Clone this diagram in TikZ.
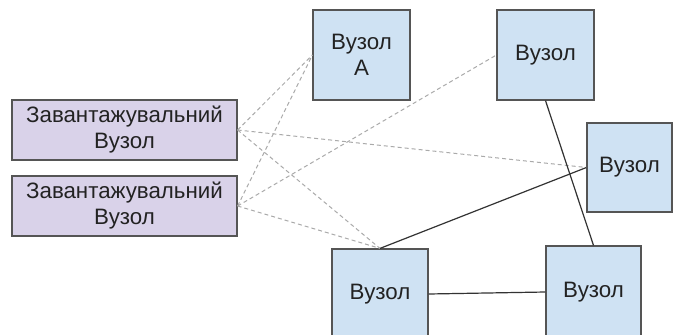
\documentclass[tikz,border=0pt]{standalone}
\usepackage{fontspec}
\setmainfont{Liberation Sans}
\definecolor{loadfill}{HTML}{D9D2E9}
\definecolor{nodefill}{HTML}{CFE2F3}
\definecolor{edgecol}{HTML}{555555}
\definecolor{dashcol}{HTML}{AAAAAA}
\definecolor{solidcol}{HTML}{333333}
\definecolor{txt}{HTML}{222222}
\begin{document}
\begin{tikzpicture}[x=1pt,y=-1pt,
  box/.style={draw=edgecol, line width=1.2pt, inner sep=0pt, align=center,
    text=txt, font=\fontsize{22.3}{26}\selectfont},
  loadbox/.style={box, fill=loadfill, minimum width=225pt, minimum height=60pt},
  netbox/.style={box, fill=nodefill, minimum width=97pt, minimum height=90pt},
  dashlink/.style={draw=dashcol, line width=1pt, dash pattern=on 4pt off 3pt},
  solidlink/.style={draw=solidcol, line width=1.2pt}]
\useasboundingbox (0,0) rectangle (673,335);
\fill[white] (0,0) rectangle (673,335);
\clip (0,0) rectangle (673,335);
\node[loadbox] (L1) at (124.5,130) {Завантажувальний\\Вузол};
\node[loadbox] (L2) at (124.5,206) {Завантажувальний\\Вузол};
\node[netbox] (A) at (361.5,55) {Вузол\\A};
\node[netbox] (TR) at (545.5,55) {Вузол};
\node[netbox, minimum width=85pt, minimum height=89pt] (R) at (629.5,167.5) {Вузол};
\node[netbox, minimum width=96pt, minimum height=90pt] (BL) at (380,294) {Вузол};
\node[netbox, minimum width=95pt, minimum height=92pt] (BR) at (593.5,292) {Вузол};
\draw[dashlink] (L1.east) -- (A.west);
\draw[dashlink] (L1.east) -- (R.west);
\draw[dashlink] (L1.east) -- (BL.north);
\draw[dashlink] (L2.east) -- (A.west);
\draw[dashlink] (L2.east) -- (TR.west);
\draw[dashlink] (L2.east) -- (BL.north);
\draw[solidlink] (BL.north) -- (R.west);
\draw[solidlink] (TR.south) -- (BR.north);
\draw[solidlink] (BL.east) -- (BR.west);
\end{tikzpicture}
\end{document}
